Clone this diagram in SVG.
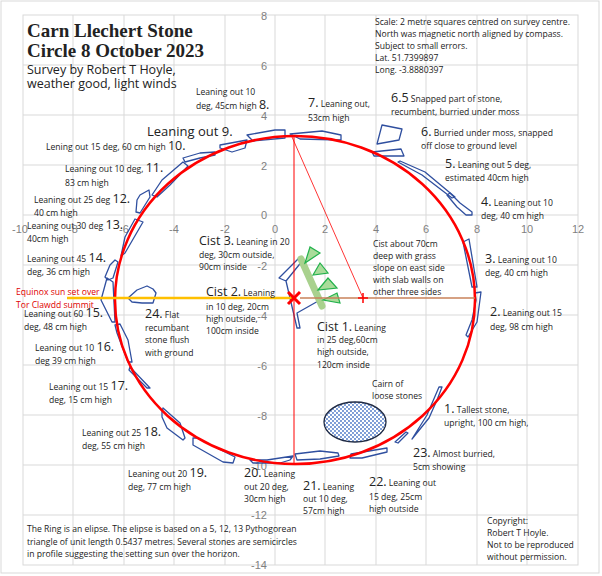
<svg xmlns="http://www.w3.org/2000/svg" width="602" height="576" viewBox="0 0 602 576">
<style>
.g{stroke:#d9d9d9;stroke-width:1;fill:none}
.ax{font-family:"Liberation Sans",sans-serif;font-size:11px;fill:#7f7f7f}
.t{font-family:"Open Sans","Liberation Sans",sans-serif;font-size:8.6px;fill:#222}
.n{font-size:12.5px}
.st{fill:none;stroke:#2f4f9f;stroke-width:1.3;stroke-linejoin:round}
.tri{fill:#a9dc9a;stroke:#22b14c;stroke-width:1.2}
</style>
<defs>
<pattern id="dots" width="4" height="4" patternUnits="userSpaceOnUse">
<rect width="4" height="4" fill="#fff"/><circle cx="1" cy="1" r="0.9" fill="#4472c4"/><circle cx="3" cy="3" r="0.9" fill="#4472c4"/>
</pattern>
</defs>
<rect x="0" y="0" width="602" height="576" fill="#fff"/>
<rect x="1" y="1" width="598" height="572" class="g"/>
<g id="grid">
<rect x="23" y="15" width="555" height="550" class="g"/>
<path class="g" d="M73 15V565M124 15V565M174 15V565M225 15V565M275 15V565M325 15V565M376 15V565M426 15V565M477 15V565M527 15V565M23 65H578M23 115H578M23 165H578M23 215H578M23 265H578M23 315H578M23 365H578M23 415H578M23 465H578M23 515H578"/>
<g class="ax" text-anchor="end">
<text x="267" y="20">8</text><text x="267" y="70">6</text><text x="267" y="120">4</text><text x="267" y="170">2</text><text x="267" y="219">0</text><text x="267" y="270">-2</text><text x="267" y="320">-4</text><text x="267" y="370">-6</text><text x="267" y="420">-8</text><text x="267" y="470">-10</text><text x="267" y="519">-12</text><text x="267" y="569">-14</text>
</g>
<g class="ax" text-anchor="middle">
<text x="20" y="233">-10</text><text x="73" y="233">-8</text><text x="124" y="233">-6</text><text x="174" y="233">-4</text><text x="225" y="233">-2</text><text x="275" y="233">0</text><text x="325" y="233">2</text><text x="376" y="233">4</text><text x="426" y="233">6</text><text x="477" y="233">8</text><text x="527" y="233">10</text><text x="578" y="233">12</text>
</g>
</g>
<g id="stones">
<polygon class="st" points="290,134 322,131 341,135 341,140 300,139"/>
<polygon class="st" points="247,135 275,130 285,130 285,138 253,141"/>
<polygon class="st" points="220,145 247,140 245,148 232,152 220,148"/>
<polygon class="st" points="183,158 200,153 215,152 215,155 200,158 185,162"/>
<polygon class="st" points="183,162 188,166 170,185 157,197 152,195 162,180"/>
<polygon class="st" points="140,195 149,190 150,197 140,213 136,212 137,200"/>
<polygon class="st" points="135,219 143,222 125,253 121,256 125,237"/>
<polygon class="st" points="115,260 118,262 113,278 108,280 105,277 110,265"/>
<polygon class="st" points="107,278 113,282 115,322 112,322 101,300"/>
<polygon class="st" points="128,298 137,290 147,286 153,289 156,293 153,303 142,303 132,302"/>
<polygon class="st" points="115,325 120,324 128,340 132,362 128,362 117,333"/>
<polygon class="st" points="130,367 150,388 147,388 129,370"/>
<polygon class="st" points="162,412 163,408 180,423 185,438 183,440 167,428 162,417"/>
<polygon class="st" points="193,438 197,438 235,457 233,463 223,462 193,445"/>
<polygon class="st" points="250,460 267,460 293,456 290,460 280,463 253,463"/>
<polygon class="st" points="295,454 320,451 338,453 339,456 320,459 297,460"/>
<polygon class="st" points="351,454 387,448 387,452 362,458 350,458"/>
<polygon class="st" points="395,442 406,432 408,433 398,443"/>
<polygon class="st" points="412,439 427,415 439,387 442,387 437,400 429,418"/>
<polygon class="st" points="475,293 481,292 477,322 468,337 466,335 472,320 476,300"/>
<polygon class="st" points="463,242 469,239 477,287 472,287"/>
<polygon class="st" points="447,195 450,193 460,203 472,212 472,215 466,215 457,207"/>
<polygon class="st" points="398,162 400,161 425,172 455,197 452,198 422,175"/>
<polygon class="st" points="372,152 401,149 404,156 374,156"/>
<polygon class="st" points="382,125 402,129 399,140 377,144"/>
<ellipse id="cairn" cx="355" cy="422" rx="31" ry="20" fill="url(#dots)" stroke="#1f2a44" stroke-width="1.3"/>
</g>
<g id="cist">
<polyline class="st" points="286,281 279,278 300,257 303,260 286,281 297,328 300,328 297,313 320,300"/>
<line x1="301" y1="259" x2="322" y2="306" stroke="#a9d18e" stroke-width="7" stroke-linecap="round"/>
<polygon class="tri" points="305,263 310,247 320,253"/>
<polygon class="tri" points="313,275 320,263 328,273"/>
<polygon class="tri" points="318,290 328,278 337,288"/>
<polygon class="tri" points="323,300 337,293 340,303"/>
</g>
<g id="connectors">
<ellipse cx="295" cy="300" rx="180" ry="164" fill="none" stroke="#f00" stroke-width="2.5"/>
<line x1="294" y1="136" x2="294" y2="463" stroke="#f00" stroke-width="1"/>
<line x1="292" y1="137" x2="363" y2="298" stroke="#f00" stroke-width="0.8"/>
<line x1="300" y1="298" x2="475" y2="298" stroke="#c8825a" stroke-width="1.5"/>
<line x1="67" y1="298" x2="294" y2="298" stroke="#ffc000" stroke-width="2.5"/>
<path d="M288 292L300 304M300 292L288 304" stroke="#f00" stroke-width="3"/>
<path d="M358 298H368M363 293V303" stroke="#f00" stroke-width="1.5"/>
</g>
<g id="labels" class="t">
<text x="27" y="37" style="font-family:'Liberation Serif',serif;font-size:19px;font-weight:bold">Carn Llechert Stone</text>
<text x="27" y="57" style="font-family:'Liberation Serif',serif;font-size:19px;font-weight:bold">Circle 8 October 2023</text>
<text x="27" y="74" style="font-size:12.5px">Survey by Robert T Hoyle,</text>
<text x="27" y="88" style="font-size:12.5px">weather good, light winds</text>
<text x="375" y="25">Scale: 2 metre squares centred on survey centre.</text>
<text x="375" y="37">North was magnetic north aligned by compass.</text>
<text x="375" y="49">Subject to small errors.</text>
<text x="375" y="61">Lat. 51.7399897</text>
<text x="375" y="73">Long. -3.8880397</text>
<text x="196" y="95">Leaning out 10</text>
<text x="196" y="109">deg, 45cm high <tspan class="n">8.</tspan></text>
<text x="147" y="136" style="font-size:13px">Leaning out 9.</text>
<text x="46" y="150">Lening out 15 deg, 60 cm high <tspan class="n">10.</tspan></text>
<text x="65" y="172">Leaning out 10 deg, <tspan class="n">11.</tspan></text>
<text x="65" y="186">83 cm high</text>
<text x="34" y="203">Leaning out 25 deg <tspan class="n">12.</tspan></text>
<text x="34" y="216">40 cm high</text>
<text x="27" y="229">Leaning out 30 deg <tspan class="n">13.</tspan></text>
<text x="27" y="242">40cm high</text>
<text x="27" y="262">Leaning out 45 <tspan class="n">14.</tspan></text>
<text x="27" y="275">deg, 36 cm high</text>
<text x="16" y="295" fill="#e00000">Equinox sun set over</text>
<text x="16" y="308" fill="#e00000">Tor Clawdd summit</text>
<text x="24" y="317">Leaning out 60 <tspan class="n">15.</tspan></text>
<text x="24" y="330">deg, 48 cm high</text>
<text x="35" y="351">Leaning out 10 <tspan class="n">16.</tspan></text>
<text x="35" y="364">deg 39 cm high</text>
<text x="49" y="390">Leaning out 15 <tspan class="n">17.</tspan></text>
<text x="49" y="403">deg, 15 cm high</text>
<text x="82" y="436">Leaning out 25 <tspan class="n">18.</tspan></text>
<text x="82" y="449">deg, 55 cm high</text>
<text x="128" y="477">Leaning out 20 <tspan class="n">19.</tspan></text>
<text x="128" y="490">deg, 77 cm high</text>
<text x="244" y="477"><tspan class="n">20.</tspan> Leaning</text>
<text x="244" y="490">out 20 deg,</text>
<text x="244" y="502">30cm high</text>
<text x="303" y="490"><tspan class="n">21.</tspan> Leaning</text>
<text x="303" y="502">out 10 deg,</text>
<text x="303" y="514">57cm high</text>
<text x="369" y="486"><tspan class="n">22.</tspan> Leaning out</text>
<text x="369" y="500">15 deg, 25cm</text>
<text x="369" y="512">high outside</text>
<text x="413" y="457"><tspan class="n">23.</tspan> Almost burried,</text>
<text x="413" y="470">5cm showing</text>
<text x="444" y="413"><tspan class="n">1.</tspan> Tallest stone,</text>
<text x="444" y="426">upright, 100 cm high,</text>
<text x="372" y="387">Cairn of</text>
<text x="372" y="399">loose stones</text>
<text x="145" y="318"><tspan class="n">24.</tspan> Flat</text>
<text x="145" y="331">recumbant</text>
<text x="145" y="343">stone flush</text>
<text x="145" y="356">with ground</text>
<text x="206" y="296"><tspan class="n">Cist 2.</tspan> Leaning</text>
<text x="206" y="310">in 10 deg, 20cm</text>
<text x="206" y="322">high outside,</text>
<text x="206" y="334">100cm inside</text>
<text x="199" y="245"><tspan class="n">Cist 3.</tspan> Leaning in 20</text>
<text x="199" y="258">deg, 30cm outside,</text>
<text x="199" y="270">90cm inside</text>
<text x="317" y="331"><tspan class="n">Cist 1.</tspan> Leaning</text>
<text x="317" y="343">in 25 deg,60cm</text>
<text x="317" y="355">high outside,</text>
<text x="317" y="368">120cm inside</text>
<text x="373" y="247">Cist about 70cm</text>
<text x="373" y="259">deep with grass</text>
<text x="373" y="271">slope on east side</text>
<text x="373" y="283">with slab walls on</text>
<text x="373" y="295">other three sides</text>
<text x="490" y="316"><tspan class="n">2.</tspan> Leaning out 15</text>
<text x="490" y="330">deg, 98 cm high</text>
<text x="485" y="263"><tspan class="n">3.</tspan> Leaning out 10</text>
<text x="485" y="276">deg, 40 cm high</text>
<text x="481" y="206"><tspan class="n">4.</tspan> Leaning out 10</text>
<text x="481" y="219">deg, 40 cm high</text>
<text x="445" y="168"><tspan class="n">5.</tspan> Leaning out 5 deg,</text>
<text x="445" y="181">estimated 40cm high</text>
<text x="421" y="136"><tspan class="n">6.</tspan> Burried under moss, snapped</text>
<text x="421" y="149">off close to ground level</text>
<text x="391" y="102"><tspan class="n">6.5</tspan> Snapped part of stone,</text>
<text x="391" y="115">recumbent, burried under moss</text>
<text x="308" y="107"><tspan class="n">7.</tspan> Leaning out,</text>
<text x="308" y="121">53cm high</text>
<text x="27" y="532">The Ring is an elipse. The elipse is based on a 5, 12, 13 Pythogorean</text>
<text x="27" y="545">triangle of unit length 0.5437 metres. Several stones are semicircles</text>
<text x="27" y="557">in profile suggesting the setting sun over the horizon.</text>
<text x="487" y="524">Copyright:</text>
<text x="487" y="536">Robert T Hoyle.</text>
<text x="487" y="548">Not to be reproduced</text>
<text x="487" y="560">without permission.</text>
</g>
</svg>
